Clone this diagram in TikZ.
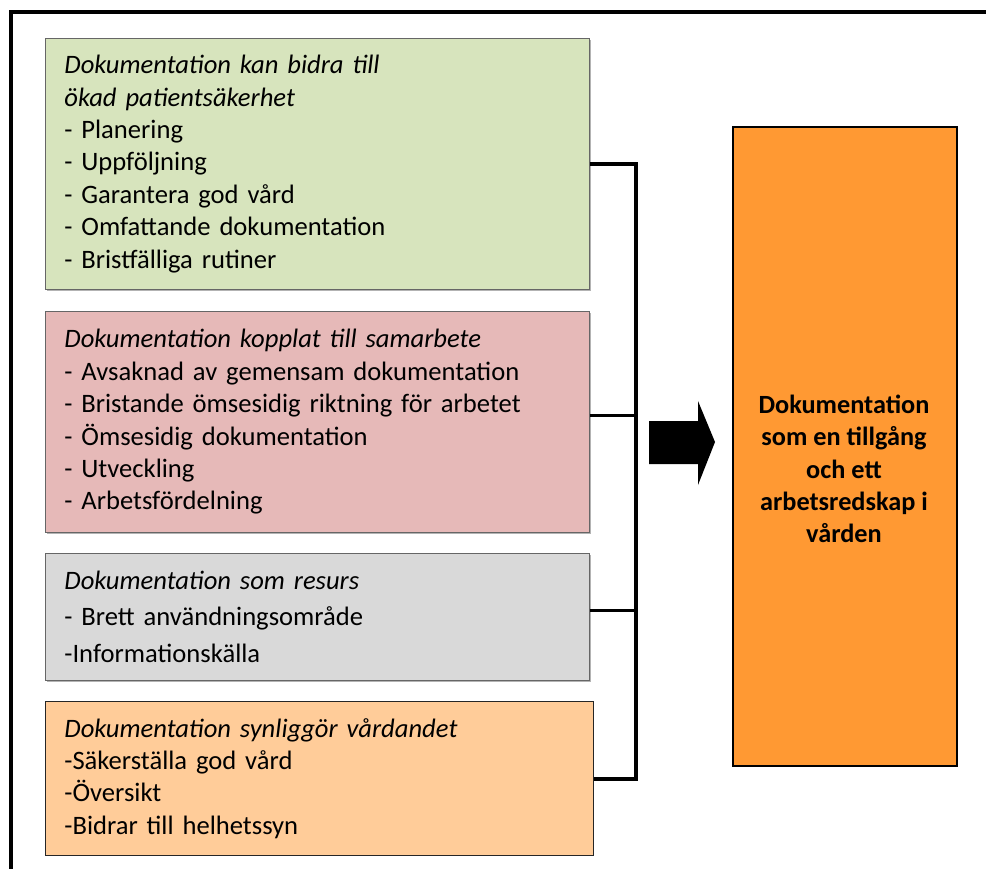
\documentclass[tikz,border=0pt]{standalone}
\usepackage{fontspec}
\setmainfont{Carlito}
\usetikzlibrary{calc,shadows}

\definecolor{greenfill}{HTML}{D7E4BD}
\definecolor{redfill}{HTML}{E6B9B8}
\definecolor{greyfill}{HTML}{D9D9D9}
\definecolor{peachfill}{HTML}{FFCC99}
\definecolor{resultfill}{HTML}{FF9933}

\tikzset{
	themebox/.style={draw=black!60, line width=0.8pt, anchor=north west, align=left, inner xsep=19pt, font=\fontsize{26.6}{32.4}\selectfont},
	shadowed/.style={drop shadow={shadow xshift=1.5pt, shadow yshift=-1.5pt, fill=black!50, opacity=0.6}},
	busline/.style={line width=3.5pt},
}

\begin{document}
\begin{tikzpicture}[x=1pt, y=-1pt]
		%%%%% START %%%%%
		\useasboundingbox (0, 0) rectangle (986, 869);
		
		\draw[line width=3.5pt] (11, 869) -- (11, 12) -- (986, 12);
		
		\node[themebox, shadowed, fill=greenfill, text width=506pt, minimum height=251pt] (bidra) at (45, 38) {\textit{Dokumentation kan bidra till}\\\textit{ökad patientsäkerhet}\\- Planering\\- Uppföljning\\- Garantera god vård\\- Omfattande dokumentation\\- Bristfälliga rutiner};
		
		\node[themebox, shadowed, fill=redfill, text width=506pt, minimum height=221pt] (samarbete) at (45, 311) {\textit{Dokumentation kopplat till samarbete}\\- Avsaknad av gemensam dokumentation\\- Bristande ömsesidig riktning för arbetet\\- Ömsesidig dokumentation\\- Utveckling\\- Arbetsfördelning};
		
		\node[themebox, shadowed, fill=greyfill, text width=506pt, minimum height=127pt] (resurs) at (45, 553) {\textit{Dokumentation som resurs}\\[3pt]- Brett användningsområde\\[5pt]-Informationskälla};
		
		\node[themebox, draw=black!85, fill=peachfill, text width=510pt, minimum height=154pt] (synlig) at (45, 701) {\textit{Dokumentation synliggör vårdandet}\\-Säkerställa god vård\\-Översikt\\-Bidrar till helhetssyn};
		
		% bracket joining the four boxes
		\coordinate (bus) at (636, 0);
		\draw[busline] (bidra.east) -- (bidra.east -| bus) -- ([yshift=-0.5pt]synlig.east -| bus) -- ([yshift=-0.5pt]synlig.east);
		\draw[busline] ([yshift=6.5pt]samarbete.east) -- ([yshift=6.5pt]samarbete.east -| bus);
		\draw[busline] ([yshift=6.5pt]resurs.east) -- ([yshift=6.5pt]resurs.east -| bus);
		
		\fill (649, 421) -- (698, 421) -- (698, 401) -- (715, 442) -- (698, 485) -- (698, 464) -- (649, 464) -- cycle;
		
		\node[draw=black, line width=1.6pt, fill=resultfill, minimum width=224pt, minimum height=639pt, anchor=north west] (result) at (732, 126) {};
		\node[align=center, font=\bfseries\fontsize{26.3}{32.2}\selectfont] (resulttext) at (844, 469) {Dokumentation\\som en tillgång\\och ett\\arbetsredskap i\\vården};
		
		%%%%% END %%%%%
\end{tikzpicture}
\end{document}
